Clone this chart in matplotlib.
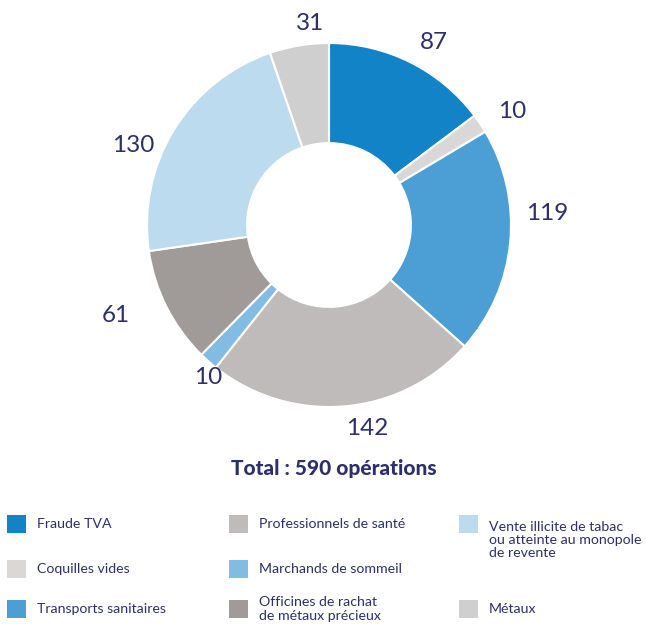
import numpy as np
import matplotlib
matplotlib.use('agg')
import matplotlib.pyplot as plt
from matplotlib.patches import Rectangle

# data
categories = ['Fraude TVA', 'Coquilles vides', 'Transports sanitaires',
              'Professionnels de santé', 'Marchands de sommeil',
              'Officines de rachat\nde métaux précieux',
              'Vente illicite de tabac\nou atteinte au monopole\nde revente',
              'Métaux']
values = [87, 10, 119, 142, 10, 61, 130, 31]
colors = ['#1283c6', '#d9d8d7', '#4c9fd5', '#bebbba', '#82bce2', '#a09b98', '#bddbee', '#cfcfcf']
total_label = 'Total : 590 opérations'

TXT = '#2d2f6b'
W, H = 646, 624

plt.rcParams['font.family'] = ['Lato', 'DejaVu Sans']

fig = plt.figure(figsize=(W / 100, H / 100), dpi=100)
ax = fig.add_axes([0, 0, 1, 1])

cx, cy, r = 329, H - 225, 182
wedges, labels = ax.pie(values, colors=colors, startangle=90, counterclock=False,
                        radius=r, center=(cx, cy), labels=[str(v) for v in values],
                        labeldistance=1.12, frame=True,
                        wedgeprops=dict(width=r * 0.55, edgecolor='white', linewidth=1.5),
                        textprops=dict(fontsize=17.5, color=TXT))
ax.axis('off')
ax.set_xlim(0, W)
ax.set_ylim(0, H)

# hand-placed labels (angle in degrees, radius factor) like the original layout
label_tweaks = {2: (3, 1.20), 5: (203, 1.27), 6: (158, 1.16)}
for i, (ang, k) in label_tweaks.items():
    a = np.deg2rad(ang)
    labels[i].set_position((cx + k * r * np.cos(a), cy + k * r * np.sin(a)))
    labels[i].set_ha('center')

ax.text(cx + 5, H - 468, total_label, ha='center', va='center', fontsize=15,
        fontweight='black', color=TXT)

# legend drawn by hand: 3 columns
col_x = [7, 229, 459]
row_y = [524, 569, 609]
for i, (name, c) in enumerate(zip(categories, colors)):
    col, row = i // 3, i % 3
    if i == 7:
        col, row = 2, 2
    x, y = col_x[col], H - row_y[row]
    ax.add_patch(Rectangle((x, y - 9), 19, 18, facecolor=c, edgecolor='none'))
    nl = name.count('\n')
    ty = y if nl != 2 else y - 16
    ax.text(x + 30, ty, name, ha='left', va='center', fontsize=10.2, color=TXT,
            linespacing=1.12)

fig.savefig('out.png', dpi=100)
